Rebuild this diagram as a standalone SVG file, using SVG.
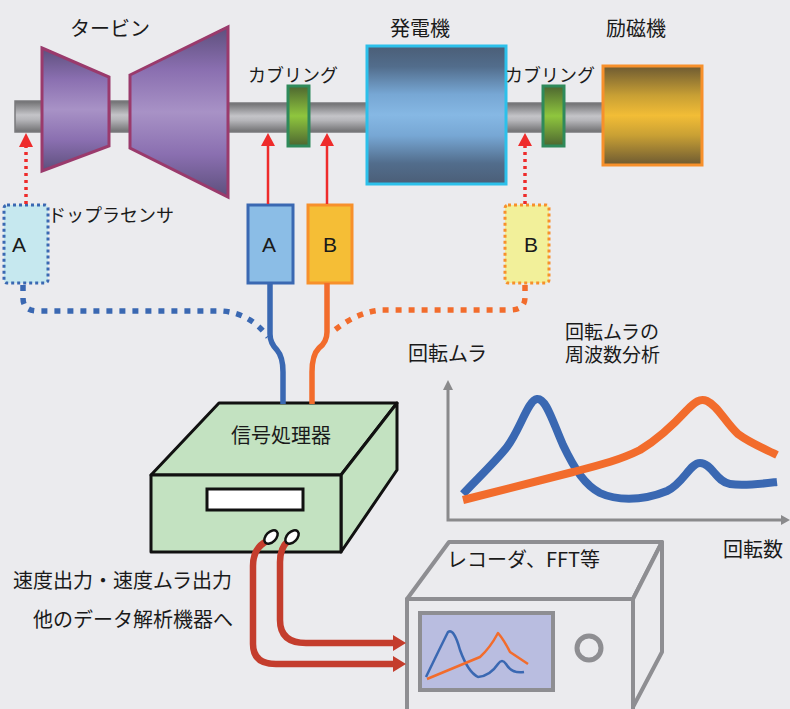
<svg xmlns="http://www.w3.org/2000/svg" width="790" height="709" viewBox="0 0 790 709">
  <defs>
    <linearGradient id="gShaft" x1="0" y1="0" x2="0" y2="1">
      <stop offset="0" stop-color="#6f6f71"/>
      <stop offset="0.45" stop-color="#c4c4c8"/>
      <stop offset="0.6" stop-color="#b6b6ba"/>
      <stop offset="1" stop-color="#6f6f71"/>
    </linearGradient>
    <linearGradient id="gTurbine" x1="0" y1="0" x2="0" y2="1">
      <stop offset="0" stop-color="#5d4f7c"/>
      <stop offset="0.25" stop-color="#8a6fb0"/>
      <stop offset="0.5" stop-color="#a892c6"/>
      <stop offset="0.75" stop-color="#8a6fb0"/>
      <stop offset="1" stop-color="#5d4f7c"/>
    </linearGradient>
    <linearGradient id="gGen" x1="0" y1="0" x2="0" y2="1">
      <stop offset="0" stop-color="#4b5e77"/>
      <stop offset="0.15" stop-color="#526d8c"/>
      <stop offset="0.35" stop-color="#77a7d4"/>
      <stop offset="0.5" stop-color="#86b8e4"/>
      <stop offset="0.65" stop-color="#77a7d4"/>
      <stop offset="0.85" stop-color="#526d8c"/>
      <stop offset="1" stop-color="#4b5e77"/>
    </linearGradient>
    <linearGradient id="gExc" x1="0" y1="0" x2="0" y2="1">
      <stop offset="0" stop-color="#6d5a32"/>
      <stop offset="0.3" stop-color="#c9a034"/>
      <stop offset="0.5" stop-color="#f2bd36"/>
      <stop offset="0.7" stop-color="#c9a034"/>
      <stop offset="1" stop-color="#6d5a32"/>
    </linearGradient>
    <linearGradient id="gCoup" x1="0" y1="0" x2="0" y2="1">
      <stop offset="0" stop-color="#4d6630"/>
      <stop offset="0.5" stop-color="#8fc63e"/>
      <stop offset="1" stop-color="#4d6630"/>
    </linearGradient>
  </defs>
  <style>
    .lbl { font-family: "Noto Sans CJK JP", "Noto Sans", sans-serif; font-size: 20px; fill: #1a1a1a; }
    .sm { font-size: 18px; }
    .two { font-size: 19px; }
    .ltr { font-family: "Liberation Sans", Arial, sans-serif; font-size: 21px; fill: #1a1a1a; text-anchor: middle; }
    .mid { text-anchor: middle; }
    .shaft { fill: url(#gShaft); stroke: #7a7a7c; stroke-width: 1.5; }
    .turb { fill: url(#gTurbine); stroke: #9a3a6c; stroke-width: 3; }
    .coup { fill: url(#gCoup); stroke: #2f8a5a; stroke-width: 3; }
    .redSolid { stroke: #ee2b2b; stroke-width: 2.5; fill: none; }
    .redDot { stroke: #ee2b2b; stroke-width: 3.5; stroke-dasharray: 3 4; fill: none; }
    .redHead { fill: #ee2b2b; }
    .cable { fill: none; stroke-width: 5.5; stroke-linecap: butt; }
    .blue { stroke: #3a68b2; }
    .orange { stroke: #f26c2c; }
    .dots { stroke-dasharray: 6 7; }
    .out { fill: none; stroke: #c43d2d; stroke-width: 6.5; }
    .outHead { fill: #c43d2d; }
    .box { fill: #c3e2c1; stroke: #111; stroke-width: 3; stroke-linejoin: round; }
    .rec { fill: #ebebee; stroke: #8e8e92; stroke-width: 4; stroke-linejoin: round; }
    .axis { stroke: #8a8a8c; stroke-width: 3; fill: none; }
    .curve { fill: none; stroke-width: 8; stroke-linecap: butt; stroke-linejoin: round; }
    .mini { fill: none; stroke-width: 2.5; stroke-linejoin: round; }
  </style>

  <rect width="790" height="709" fill="#ebebee"/>

  <!-- rotor shaft segments -->
  <g id="shaft">
    <rect class="shaft" x="15" y="101" width="28" height="31"/>
    <rect class="shaft" x="110" y="101" width="20" height="31"/>
    <rect class="shaft" x="228" y="103" width="140" height="29"/>
    <rect class="shaft" x="505" y="103" width="98" height="29"/>
  </g>

  <g id="turbine">
    <polygon class="turb" points="42,48 109,77 109,146 42,171"/>
    <polygon class="turb" points="130,75 228,27 228,197 130,148"/>
    <text class="lbl mid" x="110" y="36">タービン</text>
  </g>

  <g id="coupling1">
    <rect class="coup" x="288" y="86" width="21" height="60"/>
    <text class="lbl sm mid" x="293" y="82">カブリング</text>
  </g>

  <g id="generator">
    <rect x="367" y="46" width="139" height="138" fill="url(#gGen)" stroke="#2cc0ea" stroke-width="3"/>
    <text class="lbl mid" x="420" y="36">発電機</text>
  </g>

  <g id="coupling2">
    <rect class="coup" x="543" y="86" width="21" height="60"/>
    <text class="lbl sm mid" x="550" y="82">カブリング</text>
  </g>

  <g id="exciter">
    <rect x="603" y="66" width="99" height="99" fill="url(#gExc)" stroke="#f7902b" stroke-width="3"/>
    <text class="lbl mid" x="636" y="36">励磁機</text>
  </g>

  <!-- sensors -->
  <g id="doppler-a">
    <rect x="4" y="205" width="44" height="78" rx="3" fill="#c6e8ef" stroke="#3a68b2" stroke-width="3" stroke-dasharray="3 3"/>
    <text class="ltr" x="19" y="252">A</text>
    <text class="lbl sm" x="48" y="222">ドップラセンサ</text>
  </g>

  <g id="sensor-a">
    <rect x="248" y="205" width="45" height="78" fill="#8bbde6" stroke="#3a68b2" stroke-width="3"/>
    <text class="ltr" x="269" y="252">A</text>
  </g>

  <g id="sensor-b">
    <rect x="308" y="205" width="44" height="78" fill="#f5be36" stroke="#f7902b" stroke-width="3"/>
    <text class="ltr" x="330" y="252">B</text>
  </g>

  <g id="doppler-b">
    <rect x="505" y="205" width="44" height="78" rx="3" fill="#f2f09a" stroke="#f7902b" stroke-width="3" stroke-dasharray="3 3"/>
    <text class="ltr" x="531" y="252">B</text>
  </g>

  <g id="signal-processor">
    <polygon class="box" points="151,475 219,403 397,403 341,475"/>
    <polygon class="box" points="341,475 397,403 397,470 341,552"/>
    <rect class="box" x="151" y="475" width="190" height="77"/>
    <rect x="207" y="489" width="96" height="21" fill="#fff" stroke="#111" stroke-width="3"/>
    <text class="lbl mid" x="281" y="443">信号処理器</text>
  </g>

  <g id="recorder">
    <polygon class="rec" points="407,599 449,542 662,542 633,599"/>
    <polygon class="rec" points="633,599 662,542 662,652 633,707"/>
    <rect class="rec" x="407" y="599" width="226" height="120"/>
    <rect x="420" y="613" width="133" height="77" fill="#b9bde0" stroke="#8e8e92" stroke-width="4"/>
    <circle cx="589" cy="648" r="12" fill="none" stroke="#8e8e92" stroke-width="5"/>
    <path class="mini blue" d="M426,677 Q440,648 448,632 Q454,628 460,650 Q468,672 478,677 Q490,676 498,664 Q502,658 506,664 Q512,674 524,672"/>
    <path class="mini orange" d="M427,679 L480,657 Q490,648 498,633 Q504,640 510,652 L528,664"/>
    <text class="lbl" x="447" y="567">レコーダ、FFT等</text>
  </g>

  <g id="chart">
    <path class="axis" d="M448,386 L448,520 L786,520"/>
    <polygon points="448,380 443,390 453,390" fill="#8a8a8c"/>
    <polygon points="790,520 781,515 781,525" fill="#8a8a8c"/>
    <path class="curve blue" d="M463,494 C478,478 495,462 507,447 C520,430 528,400 537,399 C546,398 552,420 563,445 C575,470 585,485 600,493 C615,500 640,502 667,491 C683,484 690,463 700,463 C712,463 716,482 730,484 C745,486 760,484 777,482"/>
    <path class="curve orange" d="M463,500 L573,472 C600,465 620,460 640,450 C660,438 675,423 687,410 C695,402 700,398 707,401 C718,406 725,422 738,434 C750,443 765,449 777,455"/>
    <text class="lbl" x="408" y="361">回転ムラ</text>
    <text class="lbl two" x="565" y="339">回転ムラの</text>
    <text class="lbl two" x="565" y="362">周波数分析</text>
    <text class="lbl" x="723" y="557">回転数</text>
  </g>

  <g id="captions">
    <text class="lbl" x="13" y="588">速度出力・速度ムラ出力</text>
    <text class="lbl" x="33" y="627">他のデータ解析機器へ</text>
  </g>

  <!-- connectors -->
  <g id="connectors">
    <line class="redDot" x1="26" y1="204" x2="26" y2="146"/>
    <polygon class="redHead" points="26,133 19,147 33,147"/>
    <line class="redSolid" x1="268" y1="204" x2="268" y2="145"/>
    <polygon class="redHead" points="268,133 261,146 275,146"/>
    <line class="redSolid" x1="327" y1="204" x2="327" y2="145"/>
    <polygon class="redHead" points="327,133 320,146 334,146"/>
    <line class="redDot" x1="525" y1="204" x2="525" y2="145"/>
    <polygon class="redHead" points="525,133 518,146 532,146"/>

    <path class="cable blue dots" d="M23,285 L23,298 Q23,311 38,311 L222,311 Q250,313 268,337"/>
    <path class="cable orange dots" d="M525,285 L525,297 Q525,310 510,310 L382,310 Q355,312 330,334"/>
    <path class="cable blue" d="M270,283 L270,334 Q270,343 277,350 Q283,357 283,372 L283,404"/>
    <path class="cable orange" d="M327,283 L327,332 Q327,342 319,348 Q312,355 312,372 L312,404"/>

    <path class="out" d="M267,541 Q253,548 253,566 L253,644 Q253,664 276,664 L394,664"/>
    <polygon class="outHead" points="406,664 393,656 393,672"/>
    <path class="out" d="M288,541 Q280,548 280,562 L280,620 Q280,643 306,643 L394,643"/>
    <polygon class="outHead" points="406,643 393,635 393,651"/>

    <ellipse cx="271" cy="537" rx="8" ry="5" transform="rotate(-45 271 537)" fill="#fff" stroke="#111" stroke-width="2.5"/>
    <ellipse cx="292" cy="537" rx="8" ry="5" transform="rotate(-45 292 537)" fill="#fff" stroke="#111" stroke-width="2.5"/>
  </g>
</svg>
